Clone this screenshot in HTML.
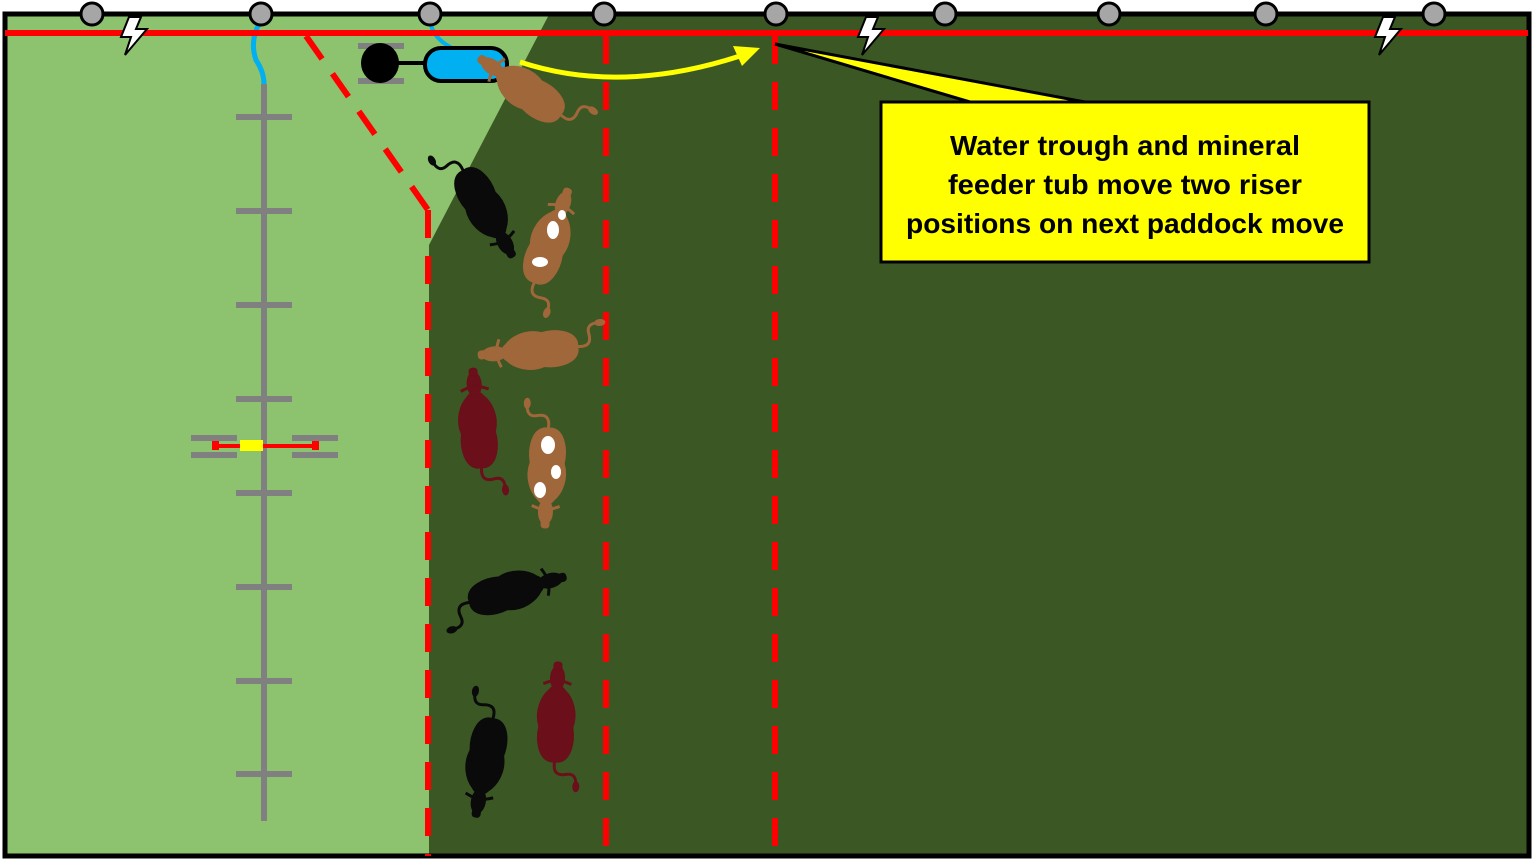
<!DOCTYPE html>
<html><head><meta charset="utf-8"><style>html,body{margin:0;padding:0;background:#fff}svg{display:block}</style></head>
<body>
<svg width="1536" height="866" viewBox="0 0 1536 866" xmlns="http://www.w3.org/2000/svg">
<defs>
<g id="cow">
  <path d="M-40,-4 C-38,-16 -20,-20 -5,-17 C10,-22 25,-16 32,-8 C38,-4 38,4 32,8 C25,16 10,22 -5,17 C-20,20 -38,16 -40,4 Z"/>
  <ellipse cx="44" cy="0" rx="12" ry="7"/>
  <rect x="52" y="-4" width="8" height="8" rx="3"/>
  <path d="M38,-14 Q42,-4 42,0 Q42,4 38,14" fill="none" stroke-width="3"/>
  <path d="M-40,0 Q-55,-2 -52,12 Q-50,22 -62,22" fill="none" stroke-width="3"/>
  <ellipse cx="-64" cy="22" rx="5" ry="3"/>
</g>
</defs>
<rect x="0" y="0" width="1536" height="866" fill="#fff"/>
<rect x="5" y="14" width="1524" height="842" fill="#3a5724" stroke="#000" stroke-width="5"/>
<polygon points="7.5,16.5 548,16.5 429,245 429,853.5 7.5,853.5" fill="#8dc26e"/>
<line x1="3" y1="14" x2="1531" y2="14" stroke="#000" stroke-width="5"/>
<path d="M261,20 Q249,40 256,60 Q264,72 264,84" fill="none" stroke="#00b0f0" stroke-width="5"/>
<path d="M430,20 Q432,38 452,48" fill="none" stroke="#00b0f0" stroke-width="4"/>
<line x1="5" y1="33" x2="1528" y2="33" stroke="#f00" stroke-width="6"/>
<line x1="264" y1="84" x2="264" y2="821" stroke="#808080" stroke-width="6"/>
<g stroke="#808080" stroke-width="6">
<line x1="236" y1="117" x2="292" y2="117"/><line x1="236" y1="211" x2="292" y2="211"/>
<line x1="236" y1="305" x2="292" y2="305"/><line x1="236" y1="399" x2="292" y2="399"/>
<line x1="236" y1="493" x2="292" y2="493"/><line x1="236" y1="587" x2="292" y2="587"/>
<line x1="236" y1="681" x2="292" y2="681"/><line x1="236" y1="774" x2="292" y2="774"/>
<line x1="191" y1="438" x2="237" y2="438"/><line x1="191" y1="455" x2="237" y2="455"/>
<line x1="292" y1="438" x2="338" y2="438"/><line x1="292" y1="455" x2="338" y2="455"/>
<line x1="358" y1="46" x2="404" y2="46"/><line x1="358" y1="81" x2="404" y2="81"/>
</g>
<line x1="213" y1="446" x2="317" y2="446" stroke="#f00" stroke-width="4"/>
<rect x="212" y="441" width="7" height="9" fill="#f00"/><rect x="312" y="441" width="7" height="9" fill="#f00"/>
<rect x="240" y="440" width="23" height="11" fill="#ff0"/>
<g stroke="#f00" stroke-width="6" stroke-dasharray="28,18" fill="none">
<line x1="306" y1="36" x2="428" y2="210"/>
<line x1="428" y1="210" x2="428" y2="856"/>
<line x1="606" y1="36" x2="606" y2="856"/>
<line x1="775" y1="36" x2="775" y2="856"/>
</g>
<line x1="390" y1="63" x2="430" y2="63" stroke="#000" stroke-width="4"/>
<ellipse cx="380" cy="63" rx="19" ry="20" fill="#000"/>
<rect x="425" y="48" width="82" height="33" rx="16" fill="#00b0f0" stroke="#000" stroke-width="4"/>
<path d="M520,62 Q620,95 740,56" fill="none" stroke="#ff0" stroke-width="5"/>
<polygon points="760,48 733,46 742,66" fill="#ff0"/>
<g fill="#a0673a" stroke="#a0673a"><use href="#cow" transform="translate(528,92) rotate(-145)"/></g>
<g fill="#0a0a0a" stroke="#0a0a0a"><use href="#cow" transform="translate(483,205) rotate(60)"/></g>
<g fill="#a0673a" stroke="#a0673a"><use href="#cow" transform="translate(548,245) rotate(-70)"/></g>
<g fill="#a0673a" stroke="#a0673a"><use href="#cow" transform="translate(538,350) rotate(175)"/></g>
<g fill="#6b0f1a" stroke="#6b0f1a"><use href="#cow" transform="translate(478,428) rotate(-95)"/></g>
<g fill="#a0673a" stroke="#a0673a"><use href="#cow" transform="translate(547,468) rotate(92)"/></g>
<g fill="#0a0a0a" stroke="#0a0a0a"><use href="#cow" transform="translate(508,592) rotate(-15)"/></g>
<g fill="#0a0a0a" stroke="#0a0a0a"><use href="#cow" transform="translate(486,758) rotate(100)"/></g>
<g fill="#6b0f1a" stroke="#6b0f1a"><use href="#cow" transform="translate(556,722) rotate(-88)"/></g>
<g fill="#fff">
<ellipse cx="553" cy="230" rx="6" ry="9"/><ellipse cx="540" cy="262" rx="8" ry="5"/><ellipse cx="562" cy="215" rx="4" ry="5"/>
<ellipse cx="548" cy="445" rx="7" ry="9"/><ellipse cx="540" cy="490" rx="6" ry="8"/><ellipse cx="556" cy="472" rx="5" ry="7"/>
</g>
<g fill="#a6a6a6" stroke="#000" stroke-width="3">
<circle cx="92" cy="14" r="11"/><circle cx="261" cy="14" r="11"/><circle cx="430" cy="14" r="11"/>
<circle cx="604" cy="14" r="11"/><circle cx="776" cy="14" r="11"/><circle cx="945" cy="14" r="11"/>
<circle cx="1109" cy="14" r="11"/><circle cx="1266" cy="14" r="11"/><circle cx="1434" cy="14" r="11"/>
</g>
<g fill="#fff" stroke="#000" stroke-width="2">
<path transform="translate(133,35)" d="M-4,-18 L8,-18 L3,-6 L14,-6 L-8,20 L-2,2 L-12,2 Z"/>
<path transform="translate(870,35)" d="M-4,-18 L8,-18 L3,-6 L14,-6 L-8,20 L-2,2 L-12,2 Z"/>
<path transform="translate(1387,35)" d="M-4,-18 L8,-18 L3,-6 L14,-6 L-8,20 L-2,2 L-12,2 Z"/>
</g>
<polygon points="775,44 970,102 1085,102" fill="#ff0" stroke="#000" stroke-width="3"/>
<rect x="881" y="102" width="488" height="160" fill="#ff0" stroke="#000" stroke-width="3"/>
<g font-family="Liberation Sans, sans-serif" font-weight="bold" font-size="28" fill="#000" text-anchor="middle">
<text x="1125" y="155" textLength="350" lengthAdjust="spacingAndGlyphs">Water trough and mineral</text>
<text x="1125" y="194" textLength="354" lengthAdjust="spacingAndGlyphs">feeder tub move two riser</text>
<text x="1125" y="233" textLength="438" lengthAdjust="spacingAndGlyphs">positions on next paddock move</text>
</g>
</svg>
</body></html>
